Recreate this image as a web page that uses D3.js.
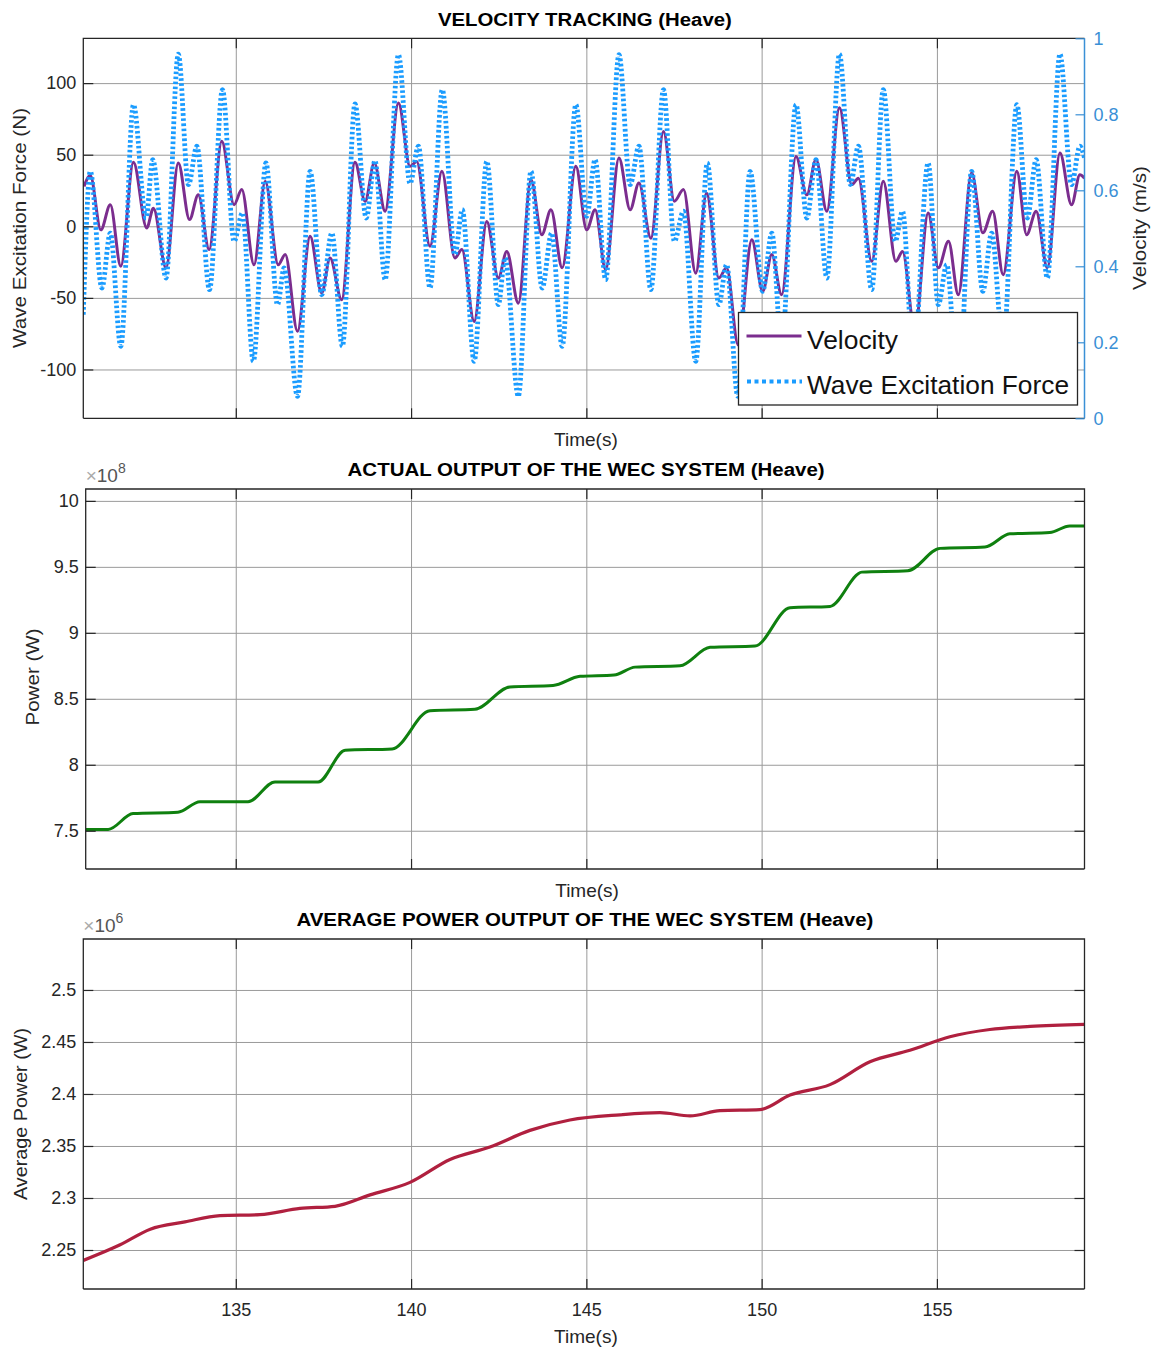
<!DOCTYPE html>
<html><head><meta charset="utf-8">
<script src="https://cdn.jsdelivr.net/npm/d3@7"></script>
<style>body{margin:0;background:#fff}svg{display:block}</style>
</head><body><svg id="c" width="1155" height="1350"></svg>
<script>
// ---------- DATA ----------
const xTicks = [135, 140, 145, 150, 155];

// Panel 1: velocity (m/s, right axis) and wave excitation force (N, left axis)
const velTime = [130.67,130.85,131.15,131.42,131.72,132.08,132.46,132.65,133.01,133.36,133.68,133.93,134.24,134.60,134.95,135.17,135.52,135.84,136.21,136.41,136.76,137.12,137.45,137.69,138.02,138.40,138.69,138.95,139.26,139.64,139.97,140.16,140.54,140.88,141.25,141.45,141.80,142.16,142.49,142.73,143.06,143.42,143.73,143.99,144.31,144.70,145.01,145.25,145.55,145.93,146.25,146.50,146.84,147.20,147.51,147.77,148.12,148.43,148.78,149.00,149.33,149.72,150.03,150.29,150.57,150.98,151.29,151.55,151.86,152.22,152.57,152.76,153.14,153.47,153.83,154.02,154.37,154.75,155.04,155.33,155.61,155.99,156.31,156.59,156.89,157.28,157.56,157.83,158.15,158.51,158.84,159.08,159.21];
const velocity = [0.61,0.639,0.496,0.562,0.400,0.674,0.501,0.553,0.396,0.672,0.523,0.588,0.444,0.729,0.562,0.602,0.404,0.624,0.404,0.431,0.229,0.479,0.330,0.422,0.312,0.674,0.571,0.672,0.545,0.830,0.663,0.676,0.453,0.650,0.422,0.444,0.255,0.518,0.369,0.439,0.303,0.628,0.483,0.549,0.396,0.663,0.496,0.549,0.391,0.685,0.549,0.619,0.474,0.755,0.571,0.602,0.382,0.593,0.369,0.396,0.193,0.470,0.334,0.431,0.325,0.689,0.588,0.681,0.545,0.817,0.615,0.632,0.413,0.624,0.413,0.439,0.232,0.540,0.396,0.466,0.325,0.646,0.488,0.545,0.378,0.650,0.483,0.545,0.396,0.698,0.562,0.641,0.632];

const forceTime = [130.65,130.85,131.18,131.42,131.72,132.08,132.44,132.63,133.01,133.36,133.65,133.89,134.25,134.62,134.95,135.19,135.50,135.86,136.19,136.38,136.76,137.12,137.45,137.74,138.04,138.40,138.72,138.97,139.26,139.64,139.97,140.21,140.54,140.89,141.25,141.46,141.80,142.16,142.49,142.68,143.06,143.42,143.74,144.01,144.31,144.70,145.01,145.25,145.55,145.93,146.25,146.50,146.84,147.20,147.51,147.77,148.12,148.45,148.78,149.00,149.32,149.67,150.03,150.29,150.57,150.98,151.29,151.55,151.86,152.22,152.53,152.76,153.14,153.47,153.81,154.02,154.33,154.75,155.04,155.28,155.61,155.99,156.31,156.56,156.89,157.28,157.58,157.83,158.15,158.51,158.84,159.08,159.21];
const force = [-61.7,38.4,-43.1,-4.7,-83.8,84.9,5.8,46.5,-36.1,120.3,29.1,55.9,-44.3,95.4,-10.5,9.3,-94.3,44.2,-54.7,-29.1,-118.7,38.4,-47.8,-4.7,-83.8,85.4,5.8,45.8,-37.3,119.8,30.0,55.9,-43.1,95.4,-19.8,11.6,-94.3,45.4,-54.7,-22.1,-118.7,38.4,-43.1,-4.7,-83.8,84.9,7.0,46.5,-37.3,119.8,29.1,55.9,-44.3,95.4,-10.5,10.5,-94.3,44.2,-54.7,-26.8,-118.7,38.4,-45.4,-4.7,-83.8,84.9,5.8,46.5,-36.1,120.3,29.1,55.9,-44.3,95.4,-10.5,10.5,-94.3,44.2,-54.7,-26.8,-118.7,38.4,-45.4,-4.7,-83.8,84.9,5.8,46.5,-36.1,120.3,29.1,55.9,47.7];

const forceTicks = [-100, -50, 0, 50, 100];
const velTicks = [0, 0.2, 0.4, 0.6, 0.8, 1];

// Panel 2: actual output power (x 1e8 W)
const powerTime = [130.72,131.36,132.07,133.35,133.98,135.35,136.12,137.35,138.12,139.46,140.54,141.82,142.82,144.05,144.82,145.79,146.39,147.67,148.53,149.81,150.81,151.95,152.86,154.17,155.09,156.37,157.08,158.22,158.79,159.21];
const power = [7.51,7.51,7.63,7.64,7.72,7.72,7.87,7.87,8.11,8.12,8.41,8.42,8.59,8.60,8.67,8.68,8.74,8.75,8.89,8.90,9.19,9.20,9.46,9.47,9.64,9.65,9.75,9.76,9.81,9.81];
const powerTicks = [7.5, 8, 8.5, 9, 9.5, 10];

// Panel 3: average power output (x 1e6 W)
const avgTime = [130.65,131.70,132.56,133.55,134.55,135.69,136.83,137.83,138.83,139.97,141.11,142.25,143.39,144.53,145.96,147.10,147.96,148.81,149.95,150.81,151.95,153.09,154.23,155.37,156.51,157.66,159.21];
const avgPower = [2.240,2.255,2.270,2.277,2.283,2.284,2.290,2.292,2.303,2.315,2.337,2.349,2.365,2.375,2.380,2.382,2.379,2.384,2.385,2.399,2.409,2.431,2.442,2.455,2.462,2.465,2.467];
const avgTicks = [2.25, 2.3, 2.35, 2.4, 2.45, 2.5];

// ---------- DRAWING ----------
const FONT = '"Liberation Sans", Arial, Helvetica, sans-serif';
const TXT = '#262626';
const GRID = '#9a9a9a';
const svg = d3.select('#c');
const hyph = f => d => f(d).replace('\u2212', '-');

function makePanel(p) {
  const x = d3.scaleLinear().domain(p.xDomain).range([p.left, p.right]);
  const y = d3.scaleLinear().domain(p.yDomain).range([p.bottom, p.top]);
  const g = svg.append('g');
  const id = 'clip' + p.id;
  svg.append('clipPath').attr('id', id).append('rect')
    .attr('x', p.left).attr('y', p.top).attr('width', p.right - p.left).attr('height', p.bottom - p.top);
  const gx = g.append('g').attr('transform', `translate(0,${p.bottom})`)
    .call(d3.axisBottom(x).tickValues(xTicks).tickSize(-(p.bottom - p.top)).tickFormat(''));
  gx.select('.domain').remove();
  gx.selectAll('line').attr('stroke', GRID).attr('stroke-width', 1);
  const gy = g.append('g').attr('transform', `translate(${p.left},0)`)
    .call(d3.axisLeft(y).tickValues(p.yTicks).tickSize(-(p.right - p.left)).tickFormat(''));
  gy.select('.domain').remove();
  gy.selectAll('line').attr('stroke', GRID).attr('stroke-width', 1);
  return {x, y, g, clip: `url(#${id})`};
}

function styleAxis(a, color) {
  a.attr('font-family', FONT).attr('font-size', 18);
  a.select('.domain').remove();
  a.selectAll('line').attr('stroke', color).attr('stroke-width', 1.2);
  a.selectAll('text').attr('fill', color);
}

function frame(P, p, opts) {
  const {x, y, g} = P;
  styleAxis(g.append('g').attr('transform', `translate(${p.left},0)`)
    .call(d3.axisLeft(y).tickValues(p.yTicks).tickFormat(p.yFmt).tickSize(-10).tickPadding(7)), TXT);
  styleAxis(g.append('g').attr('transform', `translate(0,${p.bottom})`)
    .call(d3.axisBottom(x).tickValues(xTicks).tickFormat(opts.xLabels ? d3.format('d') : '').tickSize(-10).tickPadding(14)), TXT);
  styleAxis(g.append('g').attr('transform', `translate(0,${p.top})`)
    .call(d3.axisTop(x).tickValues(xTicks).tickFormat('').tickSize(-10)), TXT);
  if (!opts.rightAxis) {
    styleAxis(g.append('g').attr('transform', `translate(${p.right},0)`)
      .call(d3.axisRight(y).tickValues(p.yTicks).tickFormat('').tickSize(-10)), TXT);
  }
  g.append('path')
    .attr('d', `M${p.left},${p.bottom}V${p.top}H${p.right}` + (opts.rightAxis ? '' : `V${p.bottom}`) + `M${p.left},${p.bottom}H${p.right}`)
    .attr('fill', 'none').attr('stroke', TXT).attr('stroke-width', 1.3);
  svg.append('text').attr('x', (p.left + p.right) / 2 + 1).attr('y', p.titleY)
    .attr('text-anchor', 'middle').attr('font-family', FONT).attr('font-weight', 'bold')
    .attr('font-size', 18).attr('fill', '#000').attr('textLength', p.titleW).attr('lengthAdjust', 'spacingAndGlyphs')
    .text(p.title);
  svg.append('text').attr('x', (p.left + p.right) / 2 + 2).attr('y', p.xLabelY)
    .attr('text-anchor', 'middle').attr('font-family', FONT).attr('font-size', 19).attr('fill', TXT)
    .text('Time(s)');
  svg.append('text').attr('transform', `translate(${p.yLabelX},${p.yLabelC}) rotate(-90)`)
    .attr('text-anchor', 'middle').attr('font-family', FONT).attr('font-size', 19).attr('fill', TXT)
    .attr('textLength', p.yLabelW).attr('lengthAdjust', 'spacingAndGlyphs')
    .text(p.yLabel);
  if (p.exp) {
    const t = svg.append('text').attr('x', p.left).attr('y', p.top - 7)
      .attr('font-family', FONT).attr('font-size', 19).attr('fill', '#555');
    t.append('tspan').attr('fill', '#aaa').text('\u00d7');
    t.append('tspan').text('10');
    t.append('tspan').attr('dy', -9).attr('font-size', 14).text(p.exp);
  }
}

// ---- Panel 1 ----
const p1 = {id: 1, left: 83.3, right: 1084.5, top: 38.3, bottom: 418.3, xDomain: [130.65, 159.21],
  yDomain: [-134.1, 131.3], yTicks: forceTicks, yFmt: hyph(d3.format('d')),
  title: 'VELOCITY TRACKING (Heave)', titleY: 26, titleW: 294,
  xLabelY: 446, yLabel: 'Wave Excitation Force (N)', yLabelX: 26, yLabelC: 228, yLabelW: 240};
const P1 = makePanel(p1);
const yVel = d3.scaleLinear().domain([0, 1]).range([p1.bottom, p1.top]);
const velData = velTime.map((t, i) => [t, velocity[i]]);
const forceData = forceTime.map((t, i) => [t, force[i]]);
P1.g.append('path').datum(velData).attr('clip-path', P1.clip)
  .attr('d', d3.line().x(d => P1.x(d[0])).y(d => yVel(d[1])).curve(d3.curveMonotoneX))
  .attr('fill', 'none').attr('stroke', '#7b2d8e').attr('stroke-width', 3);
P1.g.append('path').datum(forceData).attr('clip-path', P1.clip)
  .attr('d', d3.line().x(d => P1.x(d[0])).y(d => P1.y(d[1])).curve(d3.curveMonotoneX))
  .attr('fill', 'none').attr('stroke', '#1a9cff').attr('stroke-width', 4.8).attr('stroke-dasharray', '2.6 2.4');
frame(P1, p1, {xLabels: false, rightAxis: true});
const RC = '#3a90d6';
const ra = P1.g.append('g').attr('transform', `translate(${p1.right},0)`)
  .call(d3.axisRight(yVel).tickValues(velTicks).tickFormat(d => d === 0 || d === 1 ? d3.format('d')(d) : d3.format('.1f')(d)).tickSize(-9).tickPadding(9));
styleAxis(ra, RC);
P1.g.append('line').attr('x1', p1.right).attr('x2', p1.right).attr('y1', p1.top).attr('y2', p1.bottom)
  .attr('stroke', RC).attr('stroke-width', 1.5);
svg.append('text').attr('transform', `translate(1146,228) rotate(-90)`)
  .attr('text-anchor', 'middle').attr('font-family', FONT).attr('font-size', 19).attr('fill', TXT)
  .attr('textLength', 124).attr('lengthAdjust', 'spacingAndGlyphs').text('Velocity (m/s)');
const lg = svg.append('g');
lg.append('rect').attr('x', 738.5).attr('y', 312.5).attr('width', 339).attr('height', 92.5)
  .attr('fill', '#fff').attr('stroke', TXT).attr('stroke-width', 1.3);
lg.append('line').attr('x1', 746.5).attr('x2', 801.5).attr('y1', 336).attr('y2', 336)
  .attr('stroke', '#7b2d8e').attr('stroke-width', 3);
lg.append('line').attr('x1', 747).attr('x2', 802).attr('y1', 381.5).attr('y2', 381.5)
  .attr('stroke', '#1a9cff').attr('stroke-width', 4).attr('stroke-dasharray', '4 3.5');
lg.append('text').attr('x', 807).attr('y', 348.5).attr('font-family', FONT).attr('font-size', 26).attr('fill', '#111')
  .attr('textLength', 91).attr('lengthAdjust', 'spacingAndGlyphs').text('Velocity');
lg.append('text').attr('x', 807).attr('y', 393.5).attr('font-family', FONT).attr('font-size', 26).attr('fill', '#111')
  .attr('textLength', 262).attr('lengthAdjust', 'spacingAndGlyphs').text('Wave Excitation Force');

// ---- Panel 2 ----
const p2 = {id: 2, left: 85.7, right: 1084.5, top: 489, bottom: 869, xDomain: [130.72, 159.21],
  yDomain: [7.21, 10.09], yTicks: powerTicks, yFmt: d3.format('~g'),
  title: 'ACTUAL OUTPUT OF THE WEC SYSTEM (Heave)', titleY: 476, titleW: 477,
  xLabelY: 897, yLabel: 'Power (W)', yLabelX: 39, yLabelC: 677, yLabelW: 97, exp: '8'};
const P2 = makePanel(p2);
P2.g.append('path').datum(powerTime.map((t, i) => [t, power[i]])).attr('clip-path', P2.clip)
  .attr('d', d3.line().x(d => P2.x(d[0])).y(d => P2.y(d[1])).curve(d3.curveMonotoneX))
  .attr('fill', 'none').attr('stroke', '#0f800f').attr('stroke-width', 3);
frame(P2, p2, {xLabels: false, rightAxis: false});

// ---- Panel 3 ----
const p3 = {id: 3, left: 83.3, right: 1084.5, top: 939, bottom: 1289, xDomain: [130.65, 159.21],
  yDomain: [2.2125, 2.549], yTicks: avgTicks, yFmt: d3.format('~g'),
  title: 'AVERAGE POWER OUTPUT OF THE WEC SYSTEM (Heave)', titleY: 926, titleW: 577,
  xLabelY: 1343, yLabel: 'Average Power (W)', yLabelX: 27, yLabelC: 1114, yLabelW: 172, exp: '6'};
const P3 = makePanel(p3);
P3.g.append('path').datum(avgTime.map((t, i) => [t, avgPower[i]])).attr('clip-path', P3.clip)
  .attr('d', d3.line().x(d => P3.x(d[0])).y(d => P3.y(d[1])).curve(d3.curveMonotoneX))
  .attr('fill', 'none').attr('stroke', '#b0203f').attr('stroke-width', 3.2);
frame(P3, p3, {xLabels: true, rightAxis: false});
</script></body></html>
